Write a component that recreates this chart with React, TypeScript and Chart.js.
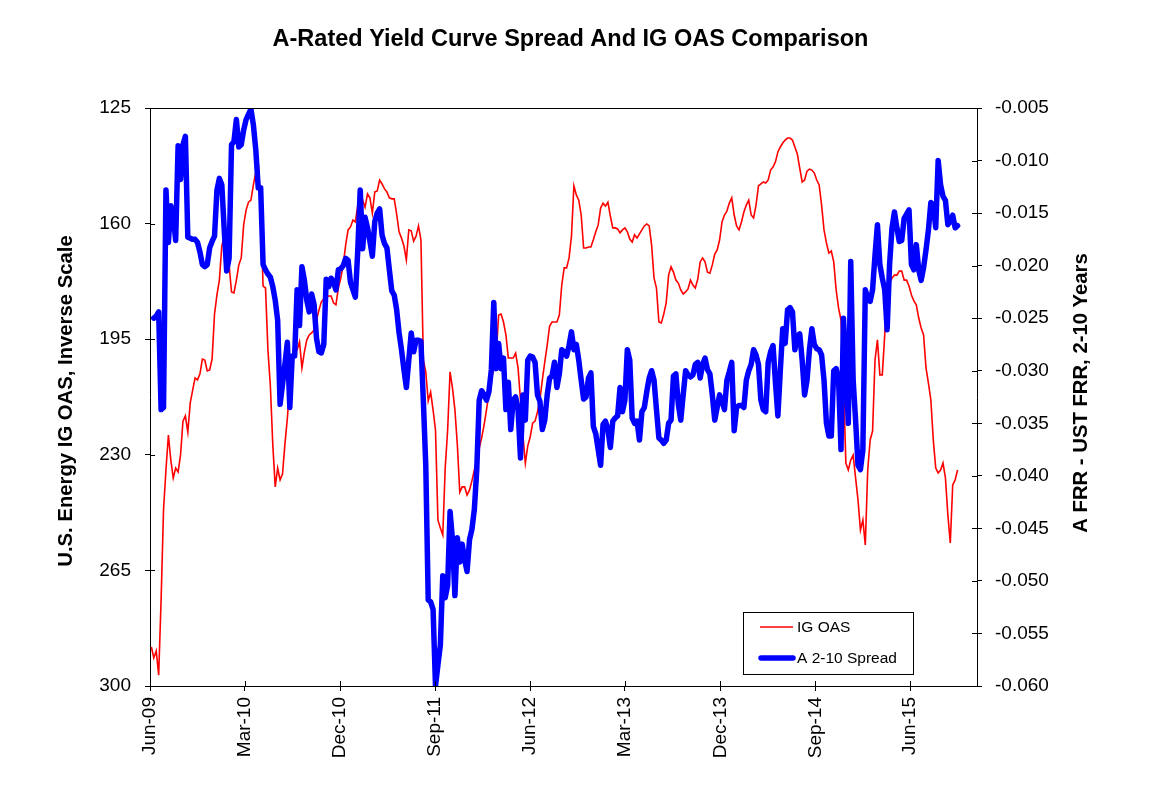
import { useEffect, useRef } from 'react';
import { Chart, registerables } from 'chart.js';

Chart.register(...registerables);

const FONT = '"Liberation Sans", Arial, Helvetica, sans-serif';
const DAY_MS = 86400000;

// Date axis: origin at 1 Jun 2009, weekly observations starting 5 Jun 2009
const AXIS_START = Date.UTC(2009, 5, 1);
const FIRST_OBSERVATION = Date.UTC(2009, 5, 5);
const AXIS_END_DAYS = 2384;

const X_TICK_LABELS = ['Jun-09', 'Mar-10', 'Dec-10', 'Sep-11', 'Jun-12', 'Mar-13', 'Dec-13', 'Sep-14', 'Jun-15'];
const X_TICK_MONTHS = [0, 9, 18, 27, 36, 45, 54, 63, 72];
const LEFT_TICKS = [125, 160, 195, 230, 265, 300];
const RIGHT_TICKS = [-0.005, -0.01, -0.015, -0.02, -0.025, -0.03, -0.035, -0.04, -0.045, -0.05, -0.055, -0.06];

// U.S. Energy IG OAS (bp), weekly
const IG_OAS = [
  288.2, 291.5, 289.4, 296.7, 274.0, 246.7, 234.6, 224.0, 231.6, 237.0,
  234.0, 235.2, 230.1, 219.8, 218.2, 223.1, 214.3, 210.4, 206.7, 207.3,
  205.5, 201.0, 201.3, 204.6, 204.3, 201.0, 187.4, 181.6, 177.1, 166.8,
  163.8, 166.5, 172.5, 180.7, 181.0, 177.1, 172.5, 170.4, 160.4, 155.9,
  153.5, 152.9, 148.3, 144.4, 141.3, 155.9, 178.9, 179.5, 198.3, 209.2,
  227.0, 239.7, 234.0, 237.6, 235.8, 226.7, 218.9, 209.2, 202.2, 198.9,
  198.3, 195.8, 203.7, 198.9, 195.2, 193.7, 193.1, 192.2, 189.2, 186.2,
  183.7, 182.8, 182.5, 181.9, 181.9, 184.0, 184.6, 179.5, 176.5, 172.5,
  166.5, 161.9, 161.0, 158.9, 159.5, 154.4, 150.4, 152.9, 155.0, 151.0,
  152.2, 156.8, 150.4, 150.1, 146.8, 148.0, 149.5, 150.4, 152.2, 152.5,
  152.5, 157.1, 162.5, 164.4, 166.8, 171.0, 161.9, 162.2, 165.3, 163.8,
  160.7, 164.9, 201.3, 204.9, 213.7, 211.0, 216.4, 222.5, 249.7, 252.2,
  254.3, 234.0, 222.5, 204.9, 209.8, 216.4, 227.0, 241.3, 239.7, 239.7,
  242.2, 240.7, 237.9, 234.6, 231.6, 228.0, 224.9, 221.0, 216.4, 211.3,
  206.7, 204.3, 199.8, 187.7, 187.4, 189.8, 193.7, 200.7, 200.7, 200.7,
  199.2, 203.7, 213.4, 224.0, 232.5, 227.3, 224.6, 220.4, 219.8, 217.0,
  213.4, 207.3, 201.9, 196.8, 191.0, 189.8, 189.8, 189.8, 187.7, 178.6,
  173.4, 173.4, 170.4, 163.8, 148.6, 151.3, 152.9, 157.4, 167.4, 167.4,
  167.1, 167.1, 164.9, 162.5, 160.4, 155.3, 153.8, 154.7, 153.5, 157.7,
  161.3, 161.3, 161.6, 162.8, 161.9, 161.3, 162.5, 164.7, 165.6, 163.4,
  164.4, 163.1, 161.9, 160.7, 160.1, 160.7, 166.5, 176.5, 179.5, 189.8,
  190.1, 187.4, 184.0, 175.6, 173.1, 174.7, 177.1, 178.0, 180.1, 181.3,
  180.7, 179.8, 177.1, 178.6, 179.5, 176.8, 171.6, 170.4, 171.6, 174.7,
  175.0, 172.5, 169.2, 168.0, 164.9, 159.5, 157.4, 156.2, 153.8, 152.2,
  157.4, 160.7, 161.9, 159.5, 156.5, 154.4, 152.9, 157.4, 158.3, 154.4,
  148.6, 148.0, 147.4, 147.7, 146.8, 143.8, 142.9, 141.3, 138.3, 136.8,
  135.6, 134.7, 134.1, 134.1, 134.7, 136.8, 138.9, 143.2, 147.4, 146.8,
  144.1, 143.5, 143.8, 144.7, 146.8, 148.3, 154.4, 161.9, 165.9, 168.9,
  168.3, 171.6, 180.1, 185.6, 189.2, 207.9, 232.5, 234.6, 231.6, 230.1,
  237.0, 243.7, 252.8, 249.7, 257.3, 234.6, 225.5, 222.8, 201.3, 195.2,
  205.8, 205.8, 193.7, 181.6, 178.0, 176.5, 175.6, 175.6, 174.4, 174.4,
  177.1, 177.1, 178.9, 181.6, 183.4, 184.6, 188.6, 191.6, 193.7, 203.7,
  208.3, 213.4, 225.5, 234.0, 235.5, 234.6, 232.5, 237.0, 248.2, 256.7,
  239.1, 237.6, 234.6,
];

// A-rated FRR minus UST FRR, 2-10 year spread, weekly
const A_2_10_SPREAD = [
  null, -0.0250, -0.0248, -0.0244, -0.0337, -0.0335, -0.0128, -0.0178, -0.0143, -0.0152,
  -0.0176, -0.0086, -0.0118, -0.0085, -0.0077, -0.0173, -0.0174, -0.0175, -0.0175, -0.0178,
  -0.0187, -0.0199, -0.0201, -0.0199, -0.0183, -0.0177, -0.0172, -0.0128, -0.0117, -0.0123,
  -0.0166, -0.0205, -0.0193, -0.0085, -0.0082, -0.0061, -0.0087, -0.0085, -0.0071, -0.0061,
  -0.0056, -0.0051, -0.0066, -0.0090, -0.0126, -0.0126, -0.0199, -0.0204, -0.0208, -0.0211,
  -0.0220, -0.0233, -0.0252, -0.0332, -0.0313, -0.0294, -0.0273, -0.0335, -0.0286, -0.0286,
  -0.0223, -0.0257, -0.0201, -0.0214, -0.0233, -0.0244, -0.0227, -0.0237, -0.0269, -0.0282,
  -0.0283, -0.0275, -0.0213, -0.0220, -0.0212, -0.0216, -0.0223, -0.0204, -0.0203, -0.0200,
  -0.0193, -0.0195, -0.0216, -0.0223, -0.0230, -0.0185, -0.0128, -0.0184, -0.0154, -0.0164,
  -0.0177, -0.0191, -0.0158, -0.0150, -0.0146, -0.0171, -0.0179, -0.0183, -0.0204, -0.0224,
  -0.0228, -0.0242, -0.0264, -0.0280, -0.0299, -0.0316, -0.0290, -0.0264, -0.0282, -0.0271,
  -0.0271, -0.0272, -0.0329, -0.0390, -0.0518, -0.0520, -0.0527, -0.0600, -0.0580, -0.0561,
  -0.0495, -0.0516, -0.0504, -0.0434, -0.0461, -0.0514, -0.0459, -0.0482, -0.0465, -0.0480,
  -0.0491, -0.0461, -0.0451, -0.0432, -0.0394, -0.0328, -0.0319, -0.0323, -0.0328, -0.0320,
  -0.0299, -0.0235, -0.0298, -0.0274, -0.0298, -0.0288, -0.0337, -0.0311, -0.0356, -0.0328,
  -0.0325, -0.0337, -0.0383, -0.0323, -0.0347, -0.0290, -0.0286, -0.0287, -0.0292, -0.0323,
  -0.0329, -0.0356, -0.0347, -0.0323, -0.0307, -0.0305, -0.0292, -0.0316, -0.0303, -0.0280,
  -0.0282, -0.0286, -0.0276, -0.0263, -0.0280, -0.0275, -0.0290, -0.0309, -0.0327, -0.0325,
  -0.0307, -0.0302, -0.0353, -0.0360, -0.0375, -0.0390, -0.0351, -0.0348, -0.0356, -0.0373,
  -0.0348, -0.0345, -0.0343, -0.0316, -0.0339, -0.0328, -0.0280, -0.0290, -0.0345, -0.0350,
  -0.0348, -0.0366, -0.0339, -0.0335, -0.0320, -0.0307, -0.0300, -0.0309, -0.0337, -0.0364,
  -0.0366, -0.0369, -0.0366, -0.0350, -0.0347, -0.0305, -0.0303, -0.0332, -0.0347, -0.0323,
  -0.0300, -0.0304, -0.0306, -0.0304, -0.0294, -0.0292, -0.0307, -0.0294, -0.0288, -0.0299,
  -0.0303, -0.0323, -0.0347, -0.0335, -0.0323, -0.0329, -0.0337, -0.0309, -0.0301, -0.0292,
  -0.0357, -0.0335, -0.0333, -0.0333, -0.0335, -0.0309, -0.0300, -0.0294, -0.0280, -0.0285,
  -0.0294, -0.0328, -0.0337, -0.0339, -0.0292, -0.0282, -0.0276, -0.0311, -0.0343, -0.0300,
  -0.0260, -0.0274, -0.0242, -0.0240, -0.0244, -0.0280, -0.0267, -0.0265, -0.0290, -0.0323,
  -0.0309, -0.0280, -0.0260, -0.0275, -0.0279, -0.0280, -0.0285, -0.0309, -0.0350, -0.0362,
  -0.0362, -0.0300, -0.0298, -0.0309, -0.0375, -0.0250, -0.0296, -0.0350, -0.0196, -0.0309,
  -0.0347, -0.0390, -0.0394, -0.0375, -0.0223, -0.0231, -0.0234, -0.0223, -0.0190, -0.0161,
  -0.0199, -0.0212, -0.0223, -0.0261, -0.0199, -0.0164, -0.0149, -0.0164, -0.0177, -0.0176,
  -0.0155, -0.0151, -0.0147, -0.0199, -0.0204, -0.0180, -0.0204, -0.0214, -0.0202, -0.0185,
  -0.0166, -0.0140, -0.0142, -0.0164, -0.0100, -0.0123, -0.0134, -0.0138, -0.0161, -0.0158,
  -0.0152, -0.0164, -0.0162,
];

const TITLE = 'A-Rated Yield Curve Spread And IG OAS Comparison';
const LEFT_AXIS_TITLE = 'U.S. Energy IG OAS, Inverse Scale';
const RIGHT_AXIS_TITLE = 'A FRR - UST FRR, 2-10 Years';
const SERIES_NAMES = ['IG OAS', 'A 2-10 Spread'];
const SERIES_COLORS = ['#FF0000', '#0000FF'];
const SERIES_WIDTHS = [1.6, 5.5];

const observationDay = (i: number) => (FIRST_OBSERVATION - AXIS_START) / DAY_MS + 7 * i;
const monthTickDay = (m: number) => (Date.UTC(2009, 5 + m, 1) - AXIS_START) / DAY_MS;

// Frame, inward tick marks, titles and the boxed legend
const decorations = {
  id: 'decorations',
  afterDraw(chart: any) {
    const { ctx, chartArea: a, scales } = chart;
    const tick = 5;
    ctx.save();
    ctx.strokeStyle = '#000';
    ctx.lineWidth = 1;

    ctx.beginPath();
    ctx.moveTo(a.left, a.top + 0.5);
    ctx.lineTo(a.right + 1, a.top + 0.5);
    scales.y.ticks.forEach((t: any) => {
      const y = Math.round(scales.y.getPixelForValue(t.value)) + 0.5;
      ctx.moveTo(a.left, y);
      ctx.lineTo(a.left + tick, y);
    });
    scales.y2.ticks.forEach((t: any) => {
      const y = Math.round(scales.y2.getPixelForValue(t.value)) + 0.5;
      ctx.moveTo(a.right - tick, y);
      ctx.lineTo(a.right, y);
    });
    scales.x.ticks.forEach((t: any) => {
      const x = Math.round(scales.x.getPixelForValue(t.value)) + 0.5;
      ctx.moveTo(x, a.bottom - tick);
      ctx.lineTo(x, a.bottom);
    });
    ctx.stroke();

    // Chart title
    ctx.fillStyle = '#000';
    ctx.font = `bold 23.5px ${FONT}`;
    ctx.textAlign = 'center';
    ctx.textBaseline = 'alphabetic';
    ctx.fillText(TITLE, chart.width / 2 - 5, 46);

    // Axis titles, both reading upwards
    const midY = (a.top + a.bottom) / 2;
    ctx.font = `bold 20.3px ${FONT}`;
    ctx.textBaseline = 'middle';
    ctx.save();
    ctx.translate(a.left - 84, midY + 4);
    ctx.rotate(-Math.PI / 2);
    ctx.fillText(LEFT_AXIS_TITLE, 0, 0);
    ctx.restore();
    ctx.save();
    ctx.translate(a.right + 104, midY - 4);
    ctx.rotate(-Math.PI / 2);
    ctx.fillText(RIGHT_AXIS_TITLE, 0, 0);
    ctx.restore();

    // Legend box
    const bx = a.right - 234;
    const by = a.bottom - 74;
    ctx.fillStyle = '#fff';
    ctx.fillRect(bx, by, 170, 62);
    ctx.strokeStyle = '#000';
    ctx.lineWidth = 1;
    ctx.strokeRect(bx + 0.5, by + 0.5, 170, 62);
    const rows = [15, 46];
    ctx.font = `15.5px ${FONT}`;
    ctx.textAlign = 'left';
    ctx.textBaseline = 'middle';
    SERIES_NAMES.forEach((name, k) => {
      const y = by + rows[k];
      ctx.strokeStyle = SERIES_COLORS[k];
      ctx.lineWidth = SERIES_WIDTHS[k];
      ctx.lineCap = k === 1 ? 'round' : 'butt';
      ctx.beginPath();
      ctx.moveTo(bx + (k === 1 ? 18 : 17), y);
      ctx.lineTo(bx + (k === 1 ? 50 : 50), y);
      ctx.stroke();
      ctx.fillStyle = '#000';
      ctx.fillText(name, bx + 54, y + 1);
    });
    ctx.restore();
  },
};

const tickFont = { family: FONT, size: 19 };
const axisGrid = { display: true, drawOnChartArea: false, drawTicks: true, tickLength: 5, color: '#000', lineWidth: 1 };
const axisBorder = { display: true, color: '#000', width: 1 };

export default function App() {
  const canvasRef = useRef<HTMLCanvasElement | null>(null);

  useEffect(() => {
    const canvas = canvasRef.current;
    if (!canvas) return;
    const chart = new Chart(canvas, {
      type: 'line',
      data: {
        datasets: [
          {
            label: SERIES_NAMES[0],
            data: IG_OAS.map((v, i) => ({ x: observationDay(i), y: v })),
            yAxisID: 'y',
            borderColor: SERIES_COLORS[0],
            borderWidth: SERIES_WIDTHS[0],
            pointRadius: 0,
            tension: 0,
            order: 1,
          },
          {
            label: SERIES_NAMES[1],
            data: A_2_10_SPREAD.map((v, i) => ({ x: observationDay(i), y: v })),
            yAxisID: 'y2',
            borderColor: SERIES_COLORS[1],
            borderWidth: SERIES_WIDTHS[1],
            borderJoinStyle: 'round',
            borderCapStyle: 'round',
            pointRadius: 0,
            tension: 0,
            order: 0,
          },
        ],
      },
      options: {
        animation: false,
        responsive: false,
        events: [],
        layout: { padding: { top: 108, left: 0, right: 0, bottom: 0 } },
        plugins: {
          legend: { display: false },
          title: { display: false },
          tooltip: { enabled: false },
        },
        scales: {
          x: {
            type: 'linear',
            position: 'bottom',
            min: 0,
            max: AXIS_END_DAYS,
            afterBuildTicks: (s: any) => {
              s.ticks = X_TICK_MONTHS.map((m) => ({ value: monthTickDay(m) }));
            },
            afterFit: (s: any) => {
              s.height = 100;
            },
            ticks: {
              autoSkip: false,
              maxRotation: 90,
              minRotation: 90,
              padding: 6,
              color: '#000',
              font: tickFont,
              callback: (_v: any, i: number) => X_TICK_LABELS[i],
            },
            grid: axisGrid,
            border: axisBorder,
          },
          y: {
            type: 'linear',
            position: 'left',
            reverse: true,
            min: 125,
            max: 300,
            afterBuildTicks: (s: any) => {
              s.ticks = LEFT_TICKS.map((v) => ({ value: v }));
            },
            afterFit: (s: any) => {
              s.width = 150;
            },
            ticks: { padding: 14, color: '#000', font: tickFont, callback: (v: any) => String(v) },
            grid: axisGrid,
            border: axisBorder,
          },
          y2: {
            type: 'linear',
            position: 'right',
            min: -0.06,
            max: -0.005,
            afterBuildTicks: (s: any) => {
              s.ticks = RIGHT_TICKS.map((v) => ({ value: v }));
            },
            afterFit: (s: any) => {
              s.width = 174;
            },
            ticks: { padding: 13, color: '#000', font: tickFont, callback: (v: any) => Number(v).toFixed(3) },
            grid: axisGrid,
            border: axisBorder,
          },
        },
      },
      plugins: [decorations],
    } as any);
    return () => chart.destroy();
  }, []);

  return (
    <div style={{ position: 'absolute', left: 0, top: 0, width: 1151, height: 786, background: '#fff' }}>
      <canvas ref={canvasRef} width={1151} height={786} style={{ width: 1151, height: 786, display: 'block' }} />
    </div>
  );
}
